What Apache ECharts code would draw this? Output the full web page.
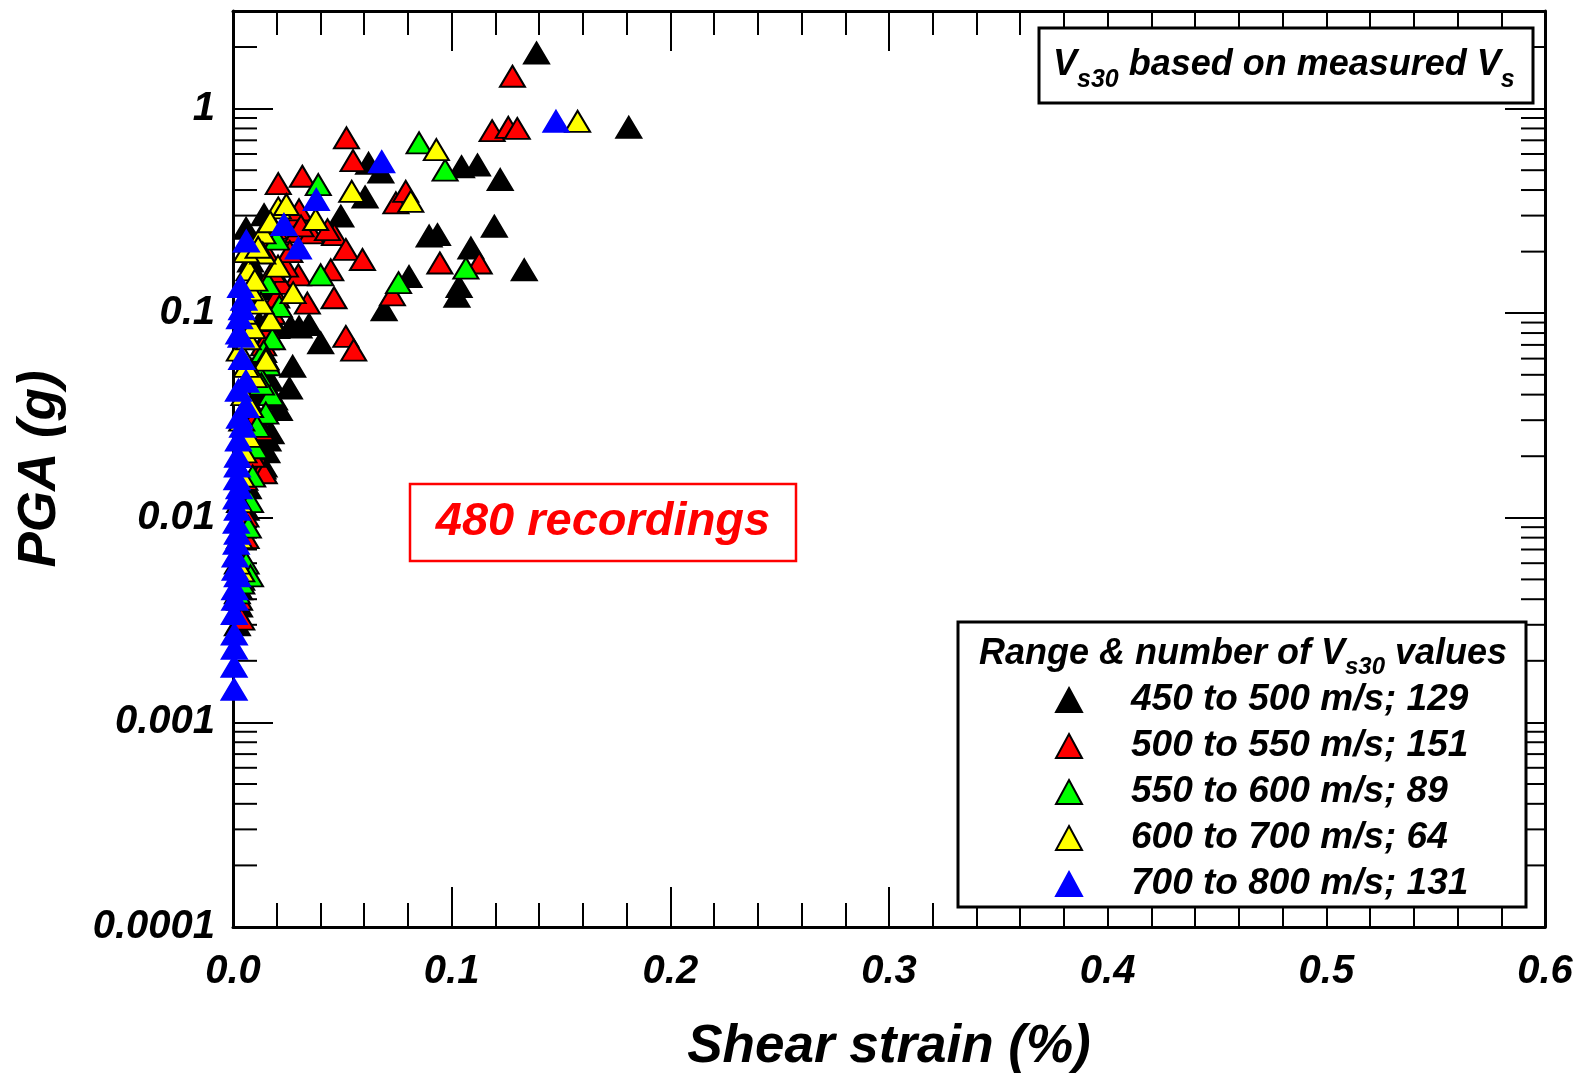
<!DOCTYPE html>
<html>
<head>
<meta charset="utf-8">
<script src="https://cdn.jsdelivr.net/npm/echarts@6/dist/echarts.min.js"></script>
<style>
html,body{margin:0;padding:0;background:#fff;}
#chart{width:1580px;height:1075px;}
</style>
</head>
<body>
<div id="chart"></div>
<script>
// ---------- data (shear strain %, PGA g) ----------
const legendNames = ['450 to 500 m/s; 129','500 to 550 m/s; 151','550 to 600 m/s; 89','600 to 700 m/s; 64','700 to 800 m/s; 131'];
const xTickLabels = ['0.0','0.1','0.2','0.3','0.4','0.5','0.6'];
const yTickLabels = ['0.0001','0.001','0.01','0.1','1'];

const blackPts = [
[0.1388,1.87],[0.181,0.81],[0.1045,0.52],[0.1118,0.53],[0.1222,0.45],[0.0676,0.49],[0.062,0.54],
[0.0604,0.37],[0.1195,0.266],[0.0897,0.238],[0.0935,0.242],[0.1088,0.208],[0.1034,0.135],[0.1024,0.121],
[0.1332,0.163],[0.0805,0.151],[0.0691,0.104],[0.0142,0.303],[0.0493,0.298],[0.0348,0.088],[0.0401,0.0716],
[0.0264,0.0863],[0.0302,0.0855],[0.0273,0.055],[0.0258,0.043],[0.0212,0.0338],[0.0174,0.026],[0.0142,0.0179],
[0.0165,0.132],[0.016,0.024],[0.0155,0.021],
[0.002,0.003],[0.003,0.0037],[0.003,0.0045],[0.004,0.006],[0.005,0.008],[0.006,0.011],[0.007,0.014],
[0.008,0.02],[0.009,0.024],[0.011,0.03],[0.012,0.04],[0.010,0.05],[0.013,0.06],[0.015,0.075],[0.012,0.09],
[0.009,0.12],[0.011,0.15],[0.008,0.18],[0.010,0.22],[0.006,0.26],[0.018,0.1],[0.02,0.085],[0.017,0.047],[0.019,0.038]
];
const redPts = [
[0.1278,1.44],[0.1185,0.78],[0.1259,0.81],[0.130,0.80],[0.0519,0.72],[0.0549,0.557],[0.0207,0.43],[0.0317,0.467],
[0.0745,0.346],[0.079,0.394],[0.0297,0.298],[0.0302,0.32],[0.0295,0.25],[0.0357,0.247],[0.0311,0.267],[0.0464,0.242],
[0.0432,0.256],[0.0516,0.205],[0.0592,0.183],[0.0299,0.154],[0.0447,0.163],[0.0462,0.119],[0.034,0.112],[0.0729,0.123],
[0.0946,0.176],[0.1126,0.176],[0.0516,0.077],[0.0552,0.066],[0.0137,0.0175],[0.0143,0.0166],[0.0077,0.027],[0.0128,0.027],
[0.0059,0.0102],[0.0054,0.0154],
[0.008,0.035],[0.01,0.045],[0.012,0.055],[0.014,0.07],[0.016,0.085],[0.018,0.1],[0.02,0.12],[0.022,0.14],[0.024,0.17],
[0.026,0.2],[0.019,0.26],[0.007,0.012],[0.006,0.008],[0.005,0.006],[0.004,0.005],[0.003,0.004],[0.004,0.0032],
[0.009,0.02],[0.011,0.032],[0.015,0.2],[0.018,0.16]
];
const greenPts = [
[0.0851,0.68],[0.097,0.50],[0.039,0.425],[0.1065,0.166],[0.0757,0.141],[0.0401,0.154],[0.0212,0.108],[0.0174,0.040],
[0.015,0.0325],[0.002,0.0043],[0.017,0.092],[0.018,0.075],[0.014,0.065],[0.016,0.056],[0.012,0.05],[0.006,0.006],
[0.007,0.009],[0.008,0.012],[0.009,0.016],[0.01,0.022],[0.011,0.028],[0.013,0.045],[0.015,0.06],[0.008,0.0052],
[0.004,0.0048],[0.02,0.23],[0.016,0.14]
];
const yellowPts = [
[0.1576,0.867],[0.093,0.63],[0.0813,0.352],[0.0543,0.394],[0.0207,0.327],[0.0244,0.34],[0.0378,0.287],[0.0137,0.247],
[0.0073,0.163],[0.0206,0.17],[0.0275,0.126],[0.0172,0.093],[0.0136,0.197],[0.0128,0.112],[0.0151,0.059],[0.0029,0.066],
[0.0098,0.049],
[0.004,0.03],[0.005,0.04],[0.006,0.055],[0.007,0.075],[0.009,0.085],[0.005,0.1],[0.008,0.13],[0.01,0.145],[0.006,0.2],
[0.003,0.012],[0.004,0.016],[0.005,0.021],[0.003,0.008],[0.004,0.0055],[0.002,0.006],[0.007,0.025],[0.008,0.035],
[0.0115,0.21],[0.017,0.28]
];
const bluePts = [
[0.1477,0.867],[0.068,0.55],[0.0381,0.359],[0.0233,0.271],[0.0061,0.225],[0.0299,0.208],[0.0035,0.135],[0.005,0.117],
[0.004,0.105],[0.003,0.095],[0.0027,0.080],[0.0037,0.077],[0.004,0.06],[0.0059,0.0465],[0.0025,0.042],[0.0059,0.035],
[0.003,0.031],[0.0044,0.028],[0.0025,0.024],[0.0021,0.020],[0.002,0.0179],[0.0018,0.0155],[0.0028,0.014],[0.0015,0.0125],
[0.002,0.011],[0.0015,0.0095],[0.002,0.0084],[0.0015,0.0075],[0.001,0.0065],[0.001,0.0056],[0.002,0.0052],[0.0008,0.0045],
[0.0008,0.004],[0.0006,0.0034],[0.0006,0.0027],[0.0006,0.0023],[0.0005,0.00188],[0.0005,0.00145]
];

// ---------- styling ----------
const FONT = "'Liberation Sans', Arial, Helvetica, sans-serif";
const seriesColors = ['#000000','#ff0000','#00ff00','#ffff00','#0000ff'];
const seriesBorders = ['#000000','#000000','#000000','#000000','#0000ff'];
const seriesData = [blackPts, redPts, greenPts, yellowPts, bluePts];

// minor tick values for the log axis (2..9 per decade)
const yMinor = [];
for (let d = -4; d <= 0; d++) {
  for (let m = 2; m <= 9; m++) {
    const v = m * Math.pow(10, d);
    if (v <= 3) yMinor.push(v);
  }
}

const tickLabelStyle = {fontSize: 40, fontWeight: 'bold', fontStyle: 'italic', fontFamily: FONT, color: '#000'};
const nameStyle = {fontSize: 53, fontWeight: 'bold', fontStyle: 'italic', fontFamily: FONT, color: '#000'};
const lineBlack = {color: '#000', width: 3};
const tickLine = {color: '#000', width: 2};

function xAxisDef(pos, showLabel) {
  return {
    type: 'value', position: pos, min: 0, max: 0.6, interval: 0.1,
    axisLine: {show: true, onZero: false, lineStyle: lineBlack},
    axisTick: {show: true, inside: true, length: 40, lineStyle: tickLine},
    minorTick: {show: true, splitNumber: 5, length: 24, lineStyle: tickLine},
    splitLine: {show: false}, minorSplitLine: {show: false},
    axisLabel: Object.assign({show: showLabel, margin: 25,
      formatter: v => xTickLabels[Math.round(v * 10)] || ''}, tickLabelStyle),
    name: showLabel ? 'Shear strain (%)' : '', nameLocation: 'middle', nameGap: 94,
    nameTextStyle: nameStyle
  };
}
function yAxisDef(pos, showLabel) {
  return {
    type: 'log', logBase: 10, position: pos, min: 0.0001, max: 3,
    axisLine: {show: true, onZero: false, lineStyle: lineBlack},
    axisTick: {show: true, inside: true, length: 40, lineStyle: tickLine},
    minorTick: {show: false},
    splitLine: {show: false},
    axisLabel: Object.assign({show: showLabel, margin: 18, showMaxLabel: false,
      formatter: v => {
        const l = Math.log10(v); const r = Math.round(l);
        if (Math.abs(l - r) > 1e-6) return '';
        return yTickLabels[r + 4] || '';
      }}, tickLabelStyle),
    name: showLabel ? 'PGA (g)' : '', nameLocation: 'middle', nameGap: 166,
    nameTextStyle: nameStyle
  };
}

const chart = echarts.init(document.getElementById('chart'), null, {renderer: 'canvas'});

const series = seriesData.map((d, i) => ({
  type: 'scatter', name: legendNames[i], data: d,
  xAxisIndex: 0, yAxisIndex: 0,
  symbol: 'triangle', symbolSize: [25, 21],
  itemStyle: {color: seriesColors[i], borderColor: seriesBorders[i], borderWidth: 2, opacity: 1},
  emphasis: {disabled: true}, clip: false, z: 3 + i, animation: false
}));

series.unshift({
  type: 'custom', name: 'minorTicks', xAxisIndex: 0, yAxisIndex: 0, silent: true, clip: false, z: 1,
  animation: false,
  data: yMinor.map(v => [0, v]),
  renderItem: (params, api) => {
    const v = api.value(1);
    const pl = api.coord([0, v]);
    const pr = api.coord([0.6, v]);
    return {type: 'group', children: [
      {type: 'line', shape: {x1: pl[0], y1: pl[1], x2: pl[0] + 24, y2: pl[1]}, style: {stroke: '#000', lineWidth: 2}},
      {type: 'line', shape: {x1: pr[0] - 24, y1: pr[1], x2: pr[0], y2: pr[1]}, style: {stroke: '#000', lineWidth: 2}}
    ]};
  }
});

const subRich = {
  v: {fontSize: 36, fontWeight: 'bold', fontStyle: 'italic', fontFamily: FONT, fill: '#000', verticalAlign: 'top', lineHeight: 36},
  sub: {fontSize: 25, fontWeight: 'bold', fontStyle: 'italic', fontFamily: FONT, fill: '#000', verticalAlign: 'top', lineHeight: 26, padding: [21, 0, 0, 0]},
  sub2: {fontSize: 24, fontWeight: 'bold', fontStyle: 'italic', fontFamily: FONT, fill: '#000', verticalAlign: 'top', lineHeight: 24, padding: [19, 0, 0, 0]}
};

const legendFont = {fontSize: 37, fontWeight: 'bold', fontStyle: 'italic', fontFamily: FONT, color: '#000', lineHeight: 40};

chart.setOption({
  animation: false,
  backgroundColor: '#fff',
  grid: {left: 233, right: 35, top: 11, bottom: 148, containLabel: false, outerBoundsMode: 'none'},
  xAxis: [xAxisDef('bottom', true), xAxisDef('top', false)],
  yAxis: [yAxisDef('left', true), yAxisDef('right', false)],
  legend: {
    orient: 'vertical', left: 1050, top: 675, itemWidth: 26, itemHeight: 24, itemGap: 6,
    selectedMode: false, z: 200,
    formatter: name => '{g|}{t|' + name + '}',
    textStyle: Object.assign({rich: {g: {width: 44}, t: legendFont}}, legendFont),
    data: legendNames
  },
  graphic: [
    {type: 'rect', z: 100, shape: {x: 1039, y: 28, width: 494, height: 75},
     style: {fill: '#fff', stroke: '#000', lineWidth: 3}},
    {type: 'text', z: 101, x: 1053, y: 47,
     style: {text: '{v|V}{sub|s30}{v| based on measured V}{sub|s}', rich: subRich, textAlign: 'left', textVerticalAlign: 'top'}},
    {type: 'rect', z: 100, shape: {x: 958, y: 622, width: 568, height: 285},
     style: {fill: '#fff', stroke: '#000', lineWidth: 3}},
    {type: 'text', z: 101, x: 1243, y: 636,
     style: {text: '{v|Range & number of V}{sub2|s30}{v| values}', rich: subRich, textAlign: 'center', textVerticalAlign: 'top'}},
    {type: 'rect', z: 100, shape: {x: 410, y: 484, width: 386, height: 77},
     style: {fill: '#fff', stroke: '#ff0000', lineWidth: 2.5}},
    {type: 'text', z: 101, x: 603, y: 522,
     style: {text: '480 recordings', fill: '#ff0000', fontSize: 47, fontWeight: 'bold', fontStyle: 'italic', fontFamily: FONT,
             textAlign: 'center', textVerticalAlign: 'middle'}}
  ],
  series: series
});
</script>
</body>
</html>
